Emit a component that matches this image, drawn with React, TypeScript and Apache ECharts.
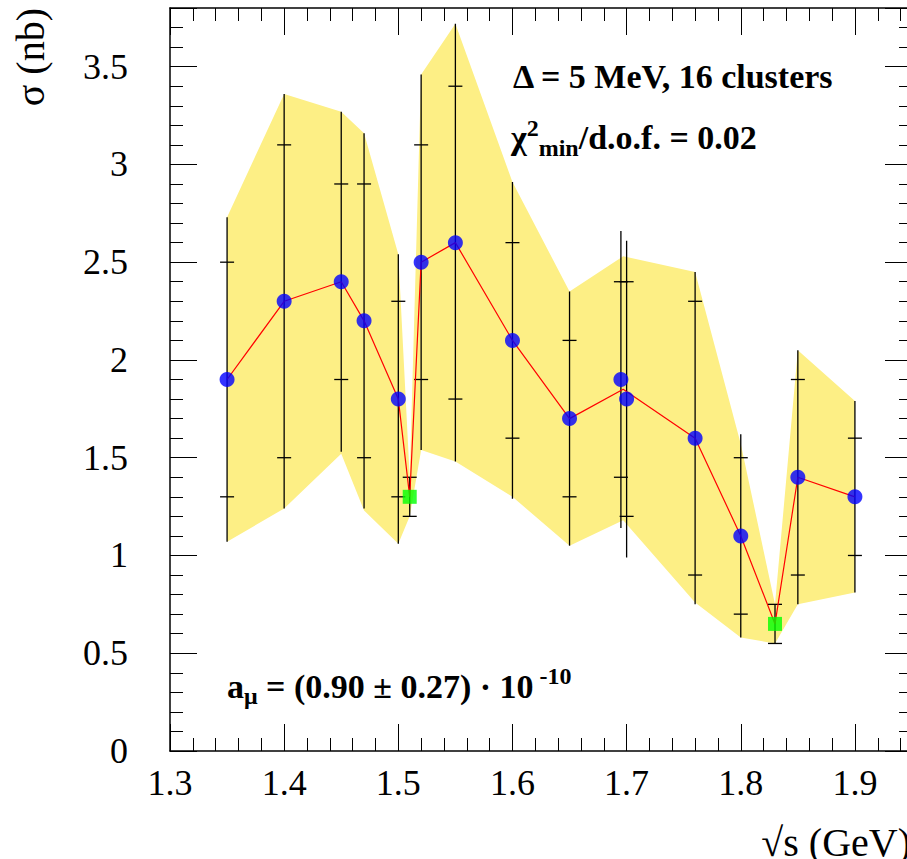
import React, { useEffect, useRef } from "react";
import * as echarts from "echarts";

// Cluster (fit) values: red line and yellow band
const clusterX = [1.35, 1.40, 1.45, 1.47, 1.50, 1.51, 1.52, 1.55, 1.60, 1.65, 1.697, 1.76, 1.80, 1.83, 1.85, 1.90];
const clusterY = [1.9, 2.3, 2.4, 2.2, 1.8, 1.3, 2.5, 2.6, 2.1, 1.7, 1.85, 1.6, 1.1, 0.65, 1.4, 1.3];
const bandHigh = [2.73, 3.36, 3.27, 3.16, 2.54, 1.40, 3.46, 3.72, 2.91, 2.35, 2.53, 2.45, 1.57, 0.75, 2.05, 1.79];
const bandLow = [1.07, 1.24, 1.52, 1.23, 1.06, 1.20, 1.54, 1.48, 1.30, 1.05, 1.18, 0.76, 0.58, 0.55, 0.75, 0.81];

// Blue data points
const pointX = [1.35, 1.40, 1.45, 1.47, 1.50, 1.52, 1.55, 1.60, 1.65, 1.695, 1.70, 1.76, 1.80, 1.85, 1.90];
const pointY = [1.9, 2.3, 2.4, 2.2, 1.8, 2.5, 2.6, 2.1, 1.7, 1.9, 1.8, 1.6, 1.1, 1.4, 1.3];
const statErr = [0.6, 0.8, 0.5, 0.7, 0.5, 0.6, 0.8, 0.5, 0.4, 0.5, 0.6, 0.7, 0.4, 0.5, 0.3];
const totErr = [0.83, 1.06, 0.87, 0.96, 0.74, 0.96, 1.12, 0.81, 0.65, 0.76, 0.81, 0.85, 0.52, 0.65, 0.49];

// Green squares
const squareX = [1.51, 1.83];
const squareY = [1.3, 0.65];
const squareErr = [0.1, 0.1];

const FONT = "'Liberation Serif', 'Times New Roman', Times, serif";

export default function App() {
  const ref = useRef<HTMLDivElement>(null);
  useEffect(() => {
    if (!ref.current) return;
    const chart = echarts.init(ref.current, null, { renderer: "svg" });

    const errData = pointX
      .map((x, i) => [x, pointY[i], statErr[i], totErr[i]])
      .concat(squareX.map((x, i) => [x, squareY[i], squareErr[i], squareErr[i]]));

    const renderErr = (params: any, api: any) => {
      const x = api.value(0);
      const y = api.value(1);
      const s = api.value(2);
      const t = api.value(3);
      const top = api.coord([x, y + t]);
      const bot = api.coord([x, y - t]);
      const c1 = api.coord([x, y + s]);
      const c2 = api.coord([x, y - s]);
      const hw = 7;
      const st = { stroke: "#000", lineWidth: 1.3 };
      return {
        type: "group",
        children: [
          { type: "line", shape: { x1: top[0], y1: top[1], x2: bot[0], y2: bot[1] }, style: st },
          { type: "line", shape: { x1: c1[0] - hw, y1: c1[1], x2: c1[0] + hw, y2: c1[1] }, style: st },
          { type: "line", shape: { x1: c2[0] - hw, y1: c2[1], x2: c2[0] + hw, y2: c2[1] }, style: st },
        ],
      };
    };

    const renderBand = (params: any, api: any) => {
      if (params.dataIndex !== 0) return null;
      const pts: number[][] = [];
      for (let i = 0; i < clusterX.length; i++) pts.push(api.coord([clusterX[i], bandHigh[i]]));
      for (let i = clusterX.length - 1; i >= 0; i--) pts.push(api.coord([clusterX[i], bandLow[i]]));
      return { type: "polygon", shape: { points: pts }, style: { fill: "#fdef85", stroke: "none" } };
    };

    const axisCommon = {
      type: "value",
      axisLine: { show: true, onZero: false, lineStyle: { color: "#000", width: 1.5 } },
      axisTick: { show: true, inside: true, length: 27, lineStyle: { color: "#000", width: 1 } },
      minorTick: { show: true, splitNumber: 5, length: 13, lineStyle: { color: "#000", width: 1 } },
      splitLine: { show: false },
      minorSplitLine: { show: false },
    };

    chart.setOption({
      animation: false,
      backgroundColor: "#fff",
      grid: { left: 170, top: 8, width: 742, height: 743, containLabel: false },
      xAxis: [
        {
          ...axisCommon,
          min: 1.3,
          max: 1.95,
          interval: 0.1,
          position: "bottom",
          axisLabel: { show: true, fontFamily: FONT, fontSize: 36, color: "#000", margin: 14, showMaxLabel: false },
        },
        {
          ...axisCommon,
          min: 1.3,
          max: 1.95,
          interval: 0.1,
          position: "top",
          axisLabel: { show: false },
        },
      ],
      yAxis: [
        {
          ...axisCommon,
          min: 0,
          max: 3.8,
          interval: 0.5,
          position: "left",
          axisLabel: { show: true, fontFamily: FONT, fontSize: 36, color: "#000", margin: 42, showMaxLabel: false },
        },
        {
          ...axisCommon,
          min: 0,
          max: 3.8,
          interval: 0.5,
          position: "right",
          axisLabel: { show: false },
        },
      ],
      series: [
        {
          type: "custom",
          name: "band",
          renderItem: renderBand,
          data: clusterX.map((x, i) => [x, bandLow[i], bandHigh[i]]),
          z: 1,
          silent: true,
        },
        {
          type: "custom",
          name: "errors",
          renderItem: renderErr,
          data: errData,
          z: 2,
          silent: true,
        },
        {
          type: "line",
          name: "fit",
          data: clusterX.map((x, i) => [x, clusterY[i]]),
          showSymbol: false,
          lineStyle: { color: "#ff0000", width: 1.2 },
          z: 3,
        },
        {
          type: "scatter",
          name: "points",
          data: pointX.map((x, i) => [x, pointY[i]]),
          symbol: "circle",
          symbolSize: 15,
          itemStyle: { color: "#0000ff" },
          z: 4,
        },
        {
          type: "scatter",
          name: "squares",
          data: squareX.map((x, i) => [x, squareY[i]]),
          symbol: "rect",
          symbolSize: 14,
          itemStyle: { color: "#00ff00" },
          z: 4,
        },
      ],
      graphic: [
        {
          type: "text",
          x: 911,
          y: 842,
          style: { text: "√s (GeV)", fontFamily: FONT, fontSize: 40, fill: "#000", align: "right", verticalAlign: "middle" },
        },
        {
          type: "text",
          x: 30,
          y: 8,
          rotation: Math.PI / 2,
          style: { text: "σ (nb)", fontFamily: FONT, fontSize: 40, fill: "#000", align: "right", verticalAlign: "middle" },
        },
        {
          type: "text",
          x: 513,
          y: 76,
          style: { text: "Δ = 5 MeV, 16 clusters", fontFamily: FONT, fontWeight: "bold", fontSize: 34, fill: "#000", align: "left", verticalAlign: "middle" },
        },
        {
          type: "text",
          x: 511,
          y: 137,
          style: {
            text: "{m|χ}{sup|2}{sub|min}{m|/d.o.f. = 0.02}",
            align: "left",
            verticalAlign: "middle",
            rich: {
              m: { fontFamily: FONT, fontWeight: "bold", fontSize: 34, lineHeight: 50, fill: "#000", verticalAlign: "middle" },
              sup: { fontFamily: FONT, fontWeight: "bold", fontSize: 24, lineHeight: 24, fill: "#000", verticalAlign: "top", padding: [4, 0, 0, 0] },
              sub: { fontFamily: FONT, fontWeight: "bold", fontSize: 24, lineHeight: 24, fill: "#000", verticalAlign: "bottom", padding: [0, 0, 2, 0] },
            },
          },
        },
        {
          type: "text",
          x: 227,
          y: 686,
          style: {
            text: "{m|a}{sub|μ}{m| = (0.90 ± 0.27) · 10}{sup| -10}",
            align: "left",
            verticalAlign: "middle",
            rich: {
              m: { fontFamily: FONT, fontWeight: "bold", fontSize: 34, lineHeight: 44, fill: "#000", verticalAlign: "middle" },
              sup: { fontFamily: FONT, fontWeight: "bold", fontSize: 24, lineHeight: 24, fill: "#000", verticalAlign: "top", padding: [0, 0, 0, 0] },
              sub: { fontFamily: FONT, fontWeight: "bold", fontSize: 24, lineHeight: 24, fill: "#000", verticalAlign: "bottom", padding: [0, 0, 0, 0] },
            },
          },
        },
      ],
    });

    return () => {
      chart.dispose();
    };
  }, []);

  return (
    <div
      ref={ref}
      style={{ position: "fixed", left: 0, top: 0, width: 920, height: 859, background: "#fff" }}
    />
  );
}
